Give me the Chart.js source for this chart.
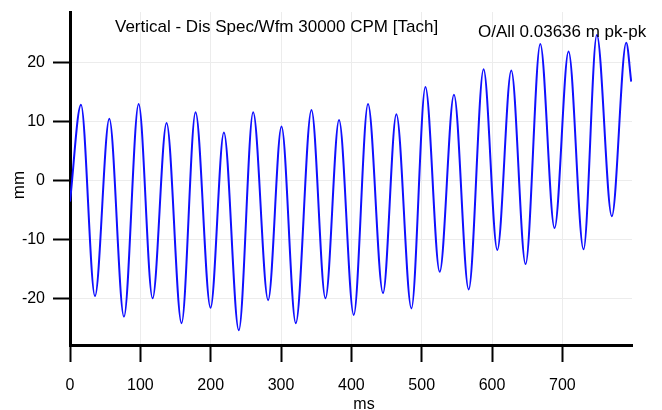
<!DOCTYPE html>
<html>
<head>
<meta charset="utf-8">
<script src="https://cdn.jsdelivr.net/npm/chart.js@4.4.1/dist/chart.umd.min.js"></script>
<style>
  html, body { margin: 0; padding: 0; background: #fff; }
  #wrap { width: 662px; height: 410px; position: relative; }
</style>
</head>
<body>
<div id="wrap"><canvas id="myChart" width="662" height="410"></canvas></div>
<script>
// waveform turning points (ms, mm)
const timeMs = [0, 15.6, 35.5, 55.9, 76.7, 97.6, 117.4, 137.3, 158.6, 178.5, 199.8,
  218.8, 240, 260.4, 281.7, 300.7, 321, 343.3, 363.2, 382.5, 403.4,
  423.7, 445, 464, 485.4, 505.3, 525.6, 545.9, 566.8, 588, 607.5,
  627.4, 647.7, 668.6, 688.9, 708.8, 730.1, 749, 770.3, 790.8, 797.9];
const dispMm = [-3.5, 12.9, -19.5, 10.5, -23, 13, -19.9, 9.8, -24.1, 11.6, -21.5,
  8.2, -25.3, 11.6, -20.2, 9.2, -24.1, 12.0, -19.9, 10.3, -22.7,
  13.0, -19.0, 11.3, -21.6, 15.9, -15.4, 14.6, -18.4, 18.9, -11.7,
  18.7, -14.1, 23.2, -8.0, 21.9, -11.6, 24.7, -6.0, 23.4, 16.8];

const xTicks = [0, 100, 200, 300, 400, 500, 600, 700];
const yTicks = [-20, -10, 0, 10, 20];

const chartTitle = 'Vertical - Dis Spec/Wfm 30000 CPM [Tach]';
const overallText = 'O/All 0.03636 m pk-pk';
const xLabel = 'ms';
const yLabel = 'mm';

const FONT = '"Liberation Sans", Arial, sans-serif';

const points = timeMs.map((t, i) => ({ x: t, y: dispMm[i] }));

const textPlugin = {
  id: 'texts',
  afterDraw(chart) {
    const ctx = chart.ctx;
    ctx.save();
    ctx.fillStyle = '#000';
    ctx.textBaseline = 'alphabetic';
    ctx.textAlign = 'left';
    ctx.font = '17px ' + FONT;
    ctx.fillText(chartTitle, 115, 32);
    ctx.fillText(overallText, 478, 37);
    ctx.textAlign = 'center';
    ctx.font = '16px ' + FONT;
    ctx.fillText(xLabel, 364, 409);
    ctx.translate(24, 185);
    ctx.rotate(-Math.PI / 2);
    ctx.font = '17px ' + FONT;
    ctx.fillText(yLabel, 0, 0);
    ctx.restore();
  }
};

// drop the label half-height padding so the plot box sits where the picture has it
function noPad(s) {
  s.paddingTop = 0;
  s.paddingBottom = 0;
  s.paddingLeft = 0;
  s.paddingRight = 0;
}

new Chart(document.getElementById('myChart').getContext('2d'), {
  type: 'line',
  data: {
    datasets: [{
      data: points,
      borderColor: '#1010ff',
      borderWidth: 2,
      pointRadius: 0,
      fill: false,
      cubicInterpolationMode: 'monotone'
    }]
  },
  options: {
    responsive: false,
    animation: false,
    layout: { padding: { top: 12, right: 30, left: 0, bottom: 0 } },
    plugins: { legend: { display: false }, tooltip: { enabled: false } },
    scales: {
      x: {
        type: 'linear',
        min: 0,
        max: 799,
        afterFit: s => { s.height = 65; noPad(s); },
        afterBuildTicks: s => { s.ticks = xTicks.map(v => ({ value: v })); },
        border: { color: '#000', width: 3 },
        grid: { color: '#ececec', lineWidth: 1, tickColor: '#000', tickWidth: 2, tickLength: 17 },
        ticks: { color: '#000', font: { size: 16, family: FONT }, padding: 14, maxRotation: 0 }
      },
      y: {
        min: -27.8,
        max: 28.6,
        afterFit: s => { s.width = 70; noPad(s); },
        afterBuildTicks: s => { s.ticks = yTicks.map(v => ({ value: v })); },
        border: { color: '#000', width: 3 },
        grid: { color: '#ececec', lineWidth: 1, tickColor: '#000', tickWidth: 2, tickLength: 17 },
        ticks: { color: '#000', font: { size: 16, family: FONT }, padding: 8 }
      }
    }
  },
  plugins: [textPlugin]
});
</script>
</body>
</html>
